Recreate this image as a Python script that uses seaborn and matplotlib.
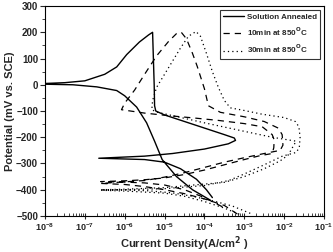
import numpy as np
import pandas as pd
import matplotlib
matplotlib.use("Agg")
import matplotlib.pyplot as plt
import seaborn as sns

# curves: log10 of current density (A/cm2) and potential (mV vs SCE)
sa_log_i = [-3.85, -4.3, -4.7, -5.06, -5.25, -5.45, -5.7, -6.0, -6.2, -6.7, -7.3, -8.3,
            -7.5, -7.0, -6.5, -6.2, -5.95, -5.63, -5.4, -5.3,
            -5.28, -5.26, -5.25, -5.22, -5.0, -4.6, -4.0, -3.5, -3.25, -3.22, -3.4, -4.0, -4.8, -5.5, -6.65,
            -5.5, -5.0, -4.6, -4.2, -3.95, -3.8]
sa_mv = [-440, -400, -350, -285, -215, -145, -85, -42, -22, -8, 0, 3,
         8, 15, 40, 68, 115, 163, 190, 200,
         100, 0, -80, -100, -115, -135, -165, -190, -203, -212, -225, -245, -262, -272, -280,
         -285, -295, -320, -360, -400, -430]

d10_log_i = [-3.55, -4.0, -4.5, -5.0, -5.5, -6.0, -6.6,
             -6.0, -5.5, -5.0, -4.5, -4.0, -3.5, -3.0, -2.6, -2.3,
             -2.26, -2.25, -2.3,
             -2.55, -3.0, -3.64, -4.3, -4.88, -5.5, -6.08,
             -6.0, -5.75, -5.5, -5.2, -4.9, -4.7, -4.58,
             -4.45, -4.3, -4.18, -4.0, -3.9, -3.6, -3.0, -2.5, -2.15, -2.05, -2.03, -2.1,
             -2.5, -3.0, -3.5, -4.0, -4.5, -5.0, -5.5, -6.6,
             -6.0, -5.5, -5.0, -4.5, -4.0, -3.5, -3.15]
d10_mv = [-465, -430, -400, -382, -374, -371, -369,
          -366, -362, -355, -342, -325, -305, -285, -270, -262,
          -240, -210, -190,
          -160, -148, -136, -126, -118, -108, -95,
          -70, -20, 40, 110, 165, 195, 200,
          175, 120, 70, -15, -80, -105, -122, -140, -165, -190, -230, -250,
          -262, -278, -295, -315, -335, -352, -365, -376,
          -380, -388, -400, -415, -435, -460, -495]

d30_log_i = [-2.85, -3.3, -3.8, -4.3, -4.8, -5.4, -6.0, -6.6,
             -6.0, -5.0, -4.5, -3.5, -3.0, -2.5, -2.1, -1.9,
             -1.7, -2.3, -2.89, -4.0, -5.2, -5.32,
             -5.3, -5.2, -5.0, -4.8, -4.6, -4.4, -4.21,
             -4.1, -3.95, -3.8, -3.65, -3.5, -3.35, -3.0, -2.56, -2.0, -1.72, -1.63, -1.6, -1.62, -1.7, -1.9,
             -2.06, -2.5, -3.0, -3.39, -4.0, -5.0, -6.6,
             -6.0, -5.0, -4.5, -4.0, -3.5, -3.1]
d30_mv = [-490, -462, -442, -425, -412, -404, -401, -400,
          -398, -392, -385, -372, -350, -320, -290, -268,
          -215, -200, -181, -145, -104, -95,
          -60, -10, 40, 90, 140, 185, 203,
          185, 120, 50, -10, -60, -88, -98, -112, -125, -140, -160, -200, -240, -258, -266,
          -273, -305, -340, -365, -384, -396, -402,
          -405, -413, -425, -445, -470, -495]

labels = ["Solution Annealed", "10min at 850$^{O}$C", "30min at 850$^{O}$C"]
styles = ["-", (0, (5, 4)), (0, (1, 2.5))]
widths = [1.0, 0.9, 0.9]

y_ticks = [300, 200, 100, 0, -100, -200, -300, -400, -500]

sns.set_style("ticks")
plt.rcParams["font.family"] = ["Liberation Sans", "DejaVu Sans"]
plt.rcParams["font.weight"] = "bold"
plt.rcParams["mathtext.default"] = "bf"

fig = plt.figure(figsize=(3.33, 2.52), dpi=100)
ax = fig.add_axes([0.135, 0.143, 0.838, 0.833])

for log_i, mv, lab, ls, lw in zip([sa_log_i, d10_log_i, d30_log_i], [sa_mv, d10_mv, d30_mv],
                                   labels, styles, widths):
    df = pd.DataFrame({"i": np.power(10.0, log_i), "mv": mv})
    sns.lineplot(data=df, x="i", y="mv", sort=False, estimator=None, color="black",
                 linestyle=ls, linewidth=lw, label=lab, ax=ax)

ax.set_xscale("log")
ax.set_xlim(1e-8, 1e-1)
ax.set_ylim(-500, 300)
ax.set_yticks(y_ticks)
ax.set_yticks(range(-450, 300, 100), minor=True)
ax.set_xticks([10.0 ** k for k in range(-8, 0)])
ax.tick_params(axis="x", which="major", direction="inout", length=4, width=0.8, labelsize=6.5, pad=2)
ax.tick_params(axis="x", which="minor", direction="in", length=2.5, width=0.6)
ax.tick_params(axis="y", which="major", direction="out", length=3.5, width=0.8, labelsize=7, pad=1.5)
ax.tick_params(axis="y", which="minor", direction="out", length=2, width=0.6)
for s in ax.spines.values():
    s.set_linewidth(0.8)
    s.set_color("black")

ax.set_xlabel("Current Density(A/cm$^2$ )", fontsize=8, fontweight="bold", labelpad=1)
ax.set_ylabel("Potential (mV vs. SCE)", fontsize=8, fontweight="bold", labelpad=1)

leg = ax.legend(loc="upper right", fontsize=5.8, frameon=True, fancybox=False,
                handlelength=2.6, handletextpad=0.3, borderpad=0.4, labelspacing=0.6,
                borderaxespad=0.5)
leg.get_frame().set_edgecolor("black")
leg.get_frame().set_linewidth(0.8)
for t in leg.get_texts():
    t.set_fontweight("bold")

fig.savefig("out.png", dpi=100)
